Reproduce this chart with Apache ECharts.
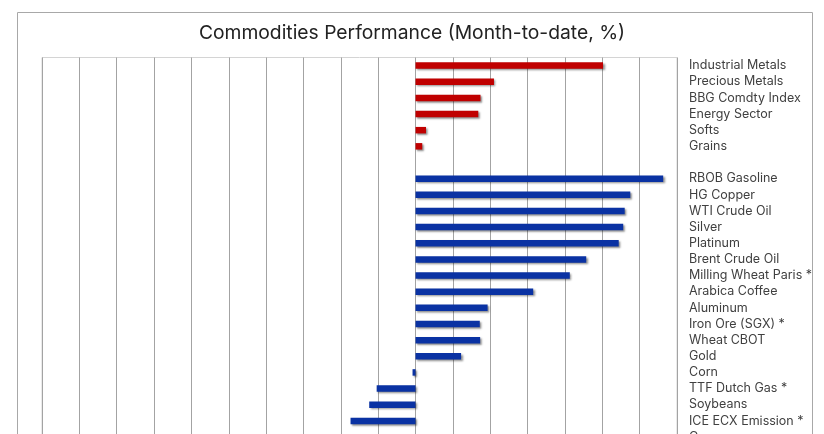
<!DOCTYPE html>
<html><head><meta charset="utf-8">
<script src="https://cdn.jsdelivr.net/npm/echarts@6/dist/echarts.min.js"></script>
<style>html,body{margin:0;padding:0;background:#fff;overflow:hidden}#c{width:824px;height:480px}</style>
</head><body><div id="c"></div>
<script>
const categories = ["Industrial Metals","Precious Metals","BBG Comdty Index","Energy Sector","Softs","Grains","",
 "RBOB Gasoline","HG Copper","WTI Crude Oil","Silver","Platinum","Brent Crude Oil","Milling Wheat Paris *",
 "Arabica Coffee","Aluminum","Iron Ore (SGX) *","Wheat CBOT","Gold","Corn","TTF Dutch Gas *","Soybeans",
 "ICE ECX Emission *","Cocoa"];
const sectorValues = [5.02,2.10,1.74,1.68,0.28,0.18,null,
 null,null,null,null,null,null,null,null,null,null,null,null,null,null,null,null,null];
const commodityValues = [null,null,null,null,null,null,null,
 6.63,5.75,5.60,5.56,5.44,4.57,4.13,3.15,1.93,1.72,1.73,1.22,-0.08,-1.04,-1.24,-1.74,null];
const xMin = -10, xMax = 7, xStep = 1;

const chart = echarts.init(document.getElementById('c'), null, {renderer:'canvas'});
const shadow = {shadowColor:'rgba(0,0,0,0.45)', shadowBlur:2, shadowOffsetX:1.5, shadowOffsetY:1.5};
chart.setOption({
  animation:false,
  title:{text:'Commodities Performance (Month-to-date, %)', left:'center', top:19,
    textStyle:{fontFamily:'Inter', fontSize:19.3, fontWeight:'normal', color:'#222'}},
  graphic:[{type:'rect', shape:{x:17.5,y:12.5,width:795,height:500}, style:{fill:'none', stroke:'#a8a8a8', lineWidth:1}, silent:true}],
  grid:{left:42, top:57.5, right:147, height:16.15*categories.length, show:true, borderColor:'#d4d4d4', borderWidth:1},
  xAxis:{type:'value', min:xMin, max:xMax, interval:xStep,
    axisLabel:{show:false}, axisTick:{show:false}, axisLine:{show:false},
    splitLine:{show:true, lineStyle:{color:'#a3a3a3', width:1}}},
  yAxis:{type:'category', data:categories, inverse:true, position:'right',
    axisLine:{show:false}, axisTick:{show:false}, splitLine:{show:false},
    axisLabel:{margin:12, align:'left', color:'#404040', fontFamily:'Inter', fontSize:12.5, interval:0}},
  series:[
    {type:'bar', name:'Sectors', data:sectorValues, stack:'s', barWidth:6.5, itemStyle:Object.assign({color:'#c00000'}, shadow)},
    {type:'bar', name:'Commodities', data:commodityValues, stack:'s', barWidth:6.5, itemStyle:Object.assign({color:'#0a32a3'}, shadow)}
  ]
});
</script></body></html>
